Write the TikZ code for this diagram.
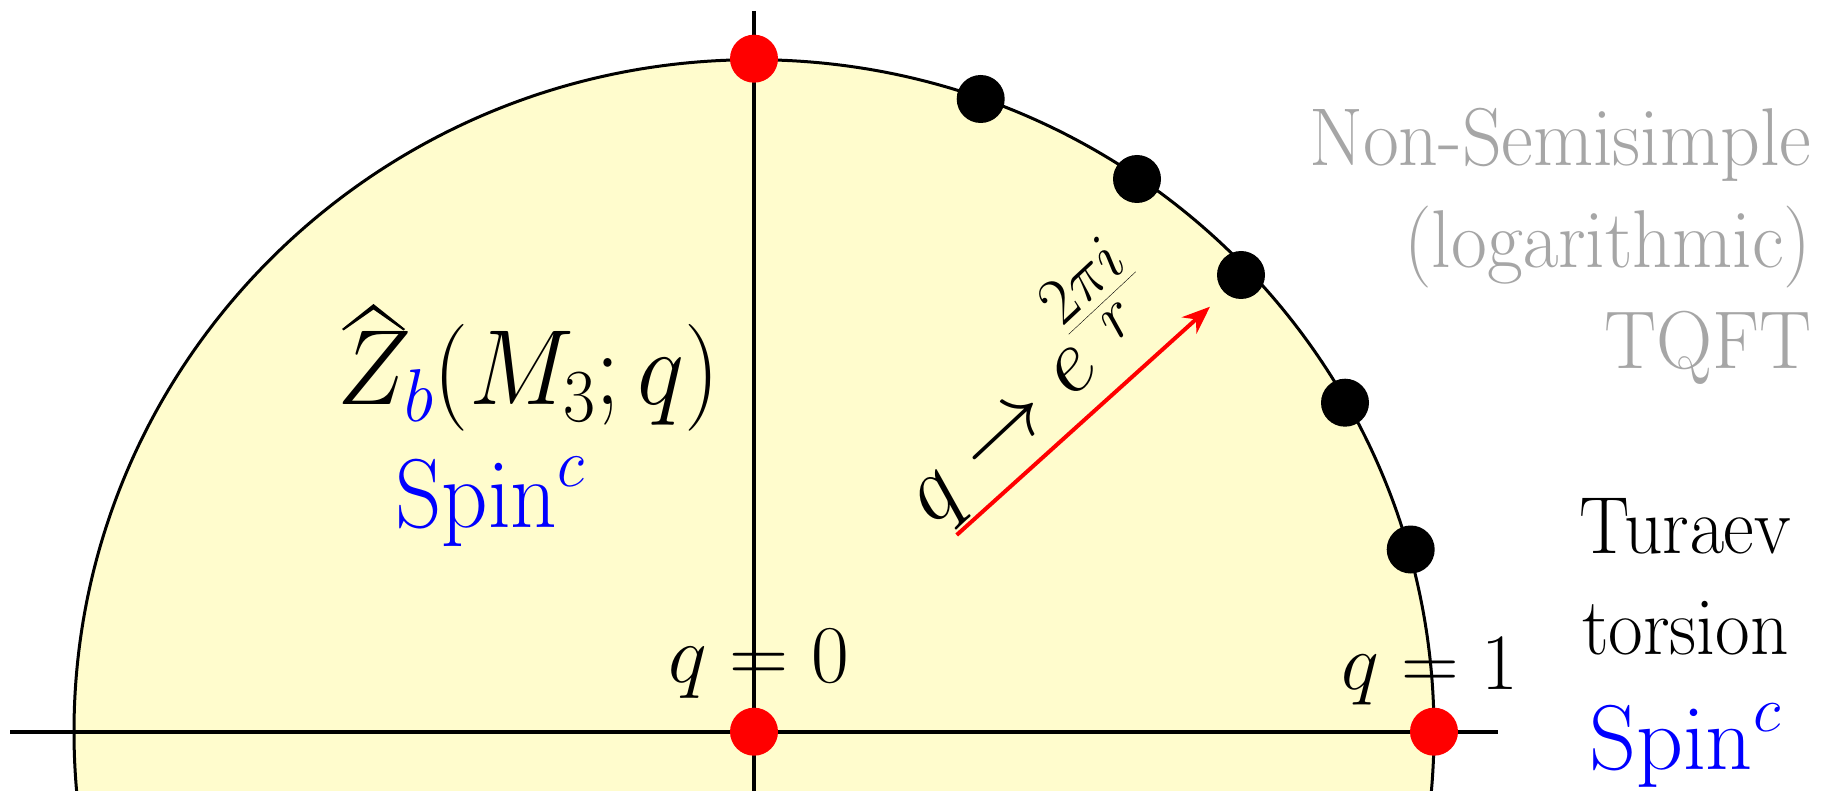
\RequirePackage{fix-cm}
\documentclass[tikz,border=0pt]{standalone}
\usepackage[no-math]{fontspec}
\newcommand\serifcm{\fontencoding{OT1}\fontfamily{cmr}\selectfont}
\def\defaultscriptscriptratio{0.72}
\usetikzlibrary{arrows.meta}
\definecolor{disk}{RGB}{255,252,205}
\definecolor{tqftgray}{RGB}{166,166,166}
\begin{document}
\begin{tikzpicture}[x=1pt,y=-1pt,
  axisline/.style={line width=4pt},
  rim/.style={draw=black,line width=3pt,fill=disk},
  reddot/.style={circle,fill=red,inner sep=0pt,minimum size=48pt},
  blackdot/.style={circle,fill=black,inner sep=0pt,minimum size=48pt},
  maparrow/.style={draw=red,line width=4pt,-{Stealth[length=28pt,width=22pt]}},
  lbl/.style={inner sep=0pt,anchor=base}
]
\useasboundingbox (0,0) rectangle (1829,791);
\begin{scope}
  \clip (0,0) rectangle (1829,791);
  \draw[rim] (754,731.7) ellipse [x radius=680, y radius=672];
\end{scope}
\coordinate (hl) at (10,731.7);
\coordinate (hr) at (1498,731.7);
\coordinate (vt) at (754,11);
\coordinate (vb) at (754,795);
\draw[axisline] (hl) -- (hr);
\draw[axisline] (vt) -- (vb);

% labels
\node[lbl,font=\fontsize{99.5}{110}\selectfont,yscale=1.075] (zhat) at (528.5,405) {$Z_{\color{blue}b}(M_3;q)$};
% the wide hat over Z
\fill (342,329) -- (373.5,304) -- (405,329) -- (403.5,330.5) -- (373.5,309.5) -- (343.5,330.5) -- cycle;
\node[lbl,font=\fontsize{91}{100}\selectfont,yscale=1.075,text=blue] (spinl) at (490,527) {$\mathrm{Spin}^c$};
\node[lbl,font=\fontsize{82}{98}\selectfont] (q0) at (758.5,682) {$q=0$};
\node[lbl,font=\fontsize{80}{96}\selectfont] (q1) at (1430,689.5) {$q=1$};
\node[inner sep=0pt,rotate=43,font=\fontsize{92}{100}\selectfont] (maplbl) at (1024,386) {$q\to e^{\frac{2\pi i}{r}}$};

\node[inner sep=0pt,anchor=base east,align=right,text=tqftgray,xscale=0.95,
      font=\serifcm\fontsize{82}{101.5}\selectfont] (tqft) at (1812,369)
      {Non-Semisimple\\(logarithmic)\\TQFT};
\node[inner sep=0pt,anchor=base,align=center,xscale=0.93,
      font=\serifcm\fontsize{81}{101}\selectfont] (turaev) at (1685.5,654)
      {Turaev\\torsion};
\node[lbl,font=\fontsize{92}{100}\selectfont,text=blue] (spinr) at (1685,769) {$\mathrm{Spin}^c$};

% arrow
\coordinate (as) at (956.7,535);
\coordinate (ae) at (1210,306.7);
\draw[maparrow] (as) -- (ae);

% dots
\node[reddot] (p0) at (754,731.7) {};
\node[reddot] (p1) at (1434,731.7) {};
\node[reddot] (pt) at (754,58.7) {};
\node[blackdot] (b1) at (980.7,99) {};
\node[blackdot] (b2) at (1137,179) {};
\node[blackdot] (b3) at (1241,275) {};
\node[blackdot] (b4) at (1345,402.7) {};
\node[blackdot] (b5) at (1410.7,549.5) {};
\end{tikzpicture}
\end{document}
